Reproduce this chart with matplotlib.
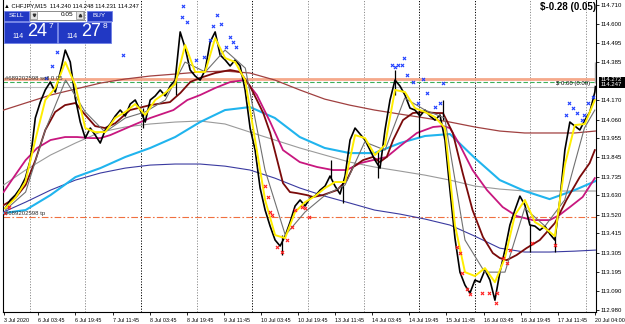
import numpy as np
import matplotlib.pyplot as plt
from matplotlib.patches import Rectangle

plt.rcParams['font.family'] = ['Liberation Sans', 'DejaVu Sans']

# M15 bars, bar 0 = 3 Jul 12:45, last bar = 20 Jul 04:00
tick_bars = [0, 60, 124, 188, 252, 316, 380, 444, 508, 572, 636, 700, 764, 828, 892, 956, 1021]
tick_labels = ['3 Jul 2020', '6 Jul 03:45', '6 Jul 19:45', '7 Jul 11:45', '8 Jul 03:45',
               '8 Jul 19:45', '9 Jul 11:45', '10 Jul 03:45', '10 Jul 19:45', '13 Jul 11:45',
               '14 Jul 03:45', '14 Jul 19:45', '15 Jul 11:45', '16 Jul 03:45', '16 Jul 19:45',
               '17 Jul 11:45', '20 Jul 04:00']
day_bars = [45, 141, 237, 333, 429, 525, 621, 717, 813, 909, 1005]
price_ticks = [112.980, 113.090, 113.195, 113.305, 113.415, 113.520, 113.630, 113.735,
               113.845, 113.955, 114.060, 114.170, 114.385, 114.495, 114.600, 114.710]

close = [113.558, 113.604, 113.632, 113.672, 113.728, 113.830, 114.069, 114.159, 114.228, 114.273,
         114.216, 114.330, 114.454, 114.386, 114.182, 114.046, 113.955, 114.012, 113.972, 113.927,
         114.001, 114.035, 114.080, 114.114, 114.080, 114.148, 114.171, 114.114, 114.046, 114.171,
         114.194, 114.228, 114.194, 114.250, 114.284, 114.557, 114.466, 114.341, 114.307, 114.284,
         114.341, 114.500, 114.557, 114.426, 114.398, 114.364, 114.398, 114.364, 114.228, 114.012,
         113.887, 113.672, 113.547, 113.456, 113.377, 113.343, 113.399, 113.479, 113.570, 113.604,
         113.570, 113.615, 113.626, 113.660, 113.683, 113.740, 113.683, 113.638, 113.740, 113.944,
         114.012, 113.978, 113.944, 113.887, 113.830, 113.785, 114.001, 114.171, 114.284, 114.250,
         114.199, 114.125, 114.114, 114.080, 114.114, 114.080, 114.057, 114.086, 113.944, 113.660,
         113.388, 113.195, 113.122, 113.076, 113.150, 113.138, 113.207, 113.150, 113.036, 113.195,
         113.320, 113.462, 113.547, 113.626, 113.575, 113.462, 113.456, 113.433, 113.456, 113.411,
         113.377, 113.604, 113.887, 114.046, 114.023, 114.001, 114.057, 114.103, 114.216]
bid = 114.247
last_high, last_low = 114.386, 114.267

# visible single-bar spikes of the close line
spike_bars = [241, 298, 480, 565, 585, 646, 675, 716, 758, 909, 951]
spike_top = [114.125, 114.284, 113.405, 113.830, 113.689, 113.887, 114.341, 114.114, 114.171,
             113.462, 113.405]
spike_bottom = [114.012, 114.199, 113.292, 113.728, 113.587, 113.728, 114.199, 113.961, 114.057,
                113.309, 113.309]

fast_ma = [113.558, 113.615, 113.706, 113.944, 114.171, 114.239, 114.386, 114.256, 114.012, 113.989,
           113.989, 114.069, 114.103, 114.148, 114.086, 114.171, 114.211, 114.262, 114.483, 114.330,
           114.330, 114.522, 114.409, 114.386, 114.284, 113.944, 113.604, 113.405, 113.388, 113.536,
           113.592, 113.626, 113.672, 113.706, 113.706, 113.972, 113.955, 113.859, 113.916, 114.228,
           114.216, 114.125, 114.103, 114.074, 114.012, 113.462, 113.195, 113.173, 113.218, 113.138,
           113.275, 113.519, 113.604, 113.479, 113.445, 113.399, 113.802, 114.029, 114.035, 114.171]

slow_fast_bars = [3, 38, 72, 107, 141, 175, 210, 244, 279, 313, 348, 382, 417, 451, 486, 520,
                  555, 589, 623, 658, 692, 727, 761, 796, 830, 865, 899, 934, 968, 1002, 1020]
slow_fast_ma = [113.547, 113.649, 114.001, 114.284, 114.103, 113.989, 114.069, 114.103, 114.171,
                114.386, 114.330, 114.454, 114.352, 113.774, 113.405, 113.536, 113.632, 113.689,
                113.933, 113.887, 114.182, 114.114, 114.069, 113.377, 113.195, 113.195, 113.558,
                113.456, 113.604, 114.012, 114.114]

ma50_bars = [0, 20, 38, 55, 72, 89, 106, 124, 141, 158, 175, 193, 218, 253, 287, 305, 322, 339,
             365, 391, 408, 425, 437, 448, 460, 472, 482, 494, 506, 523, 534, 551, 575, 592, 603,
             620, 637, 649, 661, 672, 689, 706, 723, 747, 758, 775, 792, 809, 827, 844, 856, 868,
             885, 902, 925, 951, 971, 994, 1011, 1020]
ma50 = [113.575, 113.615, 113.689, 113.830, 114.001, 114.103, 114.142, 114.154, 114.086, 114.023,
        114.012, 114.040, 114.114, 114.142, 114.159, 114.211, 114.273, 114.296, 114.324, 114.341,
        114.330, 114.250, 114.171, 114.097, 113.984, 113.830, 113.700, 113.649, 113.643, 113.632,
        113.621, 113.632, 113.660, 113.717, 113.791, 113.830, 113.848, 113.819, 113.848, 113.944,
        114.057, 114.097, 114.103, 114.097, 114.097, 113.984, 113.757, 113.547, 113.394, 113.303,
        113.275, 113.263, 113.292, 113.331, 113.377, 113.473, 113.604, 113.734, 113.813, 113.887]

ma100_bars = [0, 20, 38, 58, 81, 106, 127, 150, 167, 184, 224, 253, 293, 317, 339, 365, 391, 417,
              437, 460, 482, 511, 541, 568, 592, 615, 637, 661, 684, 713, 741, 758, 770, 787, 809,
              834, 861, 885, 913, 942, 959, 977, 999, 1020]
ma100 = [113.649, 113.745, 113.830, 113.899, 113.944, 113.961, 113.961, 113.955, 113.955, 113.972,
         114.029, 114.069, 114.114, 114.171, 114.199, 114.239, 114.273, 114.284, 114.199, 114.046,
         113.887, 113.819, 113.791, 113.774, 113.774, 113.813, 113.830, 113.848, 113.910, 113.984,
         114.018, 114.023, 114.012, 113.916, 113.774, 113.660, 113.564, 113.513, 113.490, 113.490,
         113.519, 113.564, 113.621, 113.728]

long_bars = [0, 38, 81, 124, 167, 210, 253, 296, 339, 382, 425, 468, 511, 554, 597, 640, 684,
             727, 770, 813, 856, 899, 942, 985, 1021]
ma200 = [113.530, 113.547, 113.632, 113.734, 113.785, 113.848, 113.899, 113.961, 114.046, 114.114,
         114.131, 114.069, 113.961, 113.899, 113.870, 113.870, 113.927, 113.967, 113.978, 113.842,
         113.717, 113.655, 113.609, 113.660, 113.711]
ma400 = [113.689, 113.774, 113.859, 113.927, 113.989, 114.018, 114.035, 114.046, 114.052, 114.035,
         113.989, 113.944, 113.899, 113.859, 113.819, 113.791, 113.768, 113.745, 113.717, 113.683,
         113.666, 113.655, 113.655, 113.655, 113.655]
ma600 = [114.114, 114.154, 114.199, 114.233, 114.267, 114.290, 114.307, 114.318, 114.330, 114.335,
         114.324, 114.284, 114.228, 114.176, 114.142, 114.114, 114.091, 114.069, 114.046, 114.018,
         113.995, 113.984, 113.984, 113.984, 113.995]
ma800 = [113.536, 113.592, 113.660, 113.717, 113.757, 113.785, 113.802, 113.808, 113.808, 113.796,
         113.774, 113.728, 113.672, 113.626, 113.587, 113.547, 113.524, 113.496, 113.462, 113.399,
         113.331, 113.309, 113.309, 113.314, 113.320]

up_bars = [74, 84, 93, 103, 108, 206, 310, 308, 317, 332, 346, 356, 361, 368, 375, 384, 391, 396,
           401, 670, 675, 680, 687, 691, 696, 706, 715, 723, 730, 744, 753, 758, 971, 976, 983,
           989, 997, 1002, 1008, 1016]
up_prices = [114.296, 114.364, 114.443, 114.511, 114.551, 114.426, 114.704, 114.642, 114.613,
             114.398, 114.415, 114.511, 114.591, 114.653, 114.602, 114.471, 114.528, 114.500,
             114.471, 114.369, 114.358, 114.369, 114.369, 114.409, 114.313, 114.273, 114.154,
             114.290, 114.211, 114.131, 114.154, 114.267, 114.086, 114.154, 114.125, 114.097,
             114.057, 114.086, 114.154, 114.188]
dn_bars = [3, 10, 451, 456, 460, 463, 472, 480, 489, 498, 503, 515, 520, 527, 782, 787, 791, 799,
           804, 825, 837, 851, 849, 861, 868, 873, 911, 952]
dn_prices = [113.530, 113.564, 113.683, 113.621, 113.536, 113.519, 113.337, 113.309, 113.377,
             113.450, 113.547, 113.564, 113.558, 113.507, 113.337, 113.303, 113.190, 113.099,
             113.070, 113.076, 113.076, 113.076, 113.019, 113.275, 113.246, 113.320, 113.360,
             113.348]

level_line = 114.290
open_price = 114.272
tp_price = 113.508

W, H = 625, 324
fig = plt.figure(figsize=(W / 100, H / 100), dpi=100)
ax = fig.add_axes([3 / W, 12 / H, 593 / W, 312 / H])
ax.set_xlim(-1, 1022)
ax.set_ylim(112.969, 114.738)

for i, b in enumerate(day_bars):
    col = '#000000' if i in (2, 4, 7, 8) else '#8c8c8c'
    ax.axvline(b, color=col, lw=0.7, ls=(0, (1.2, 1.6)), zorder=1)

ax.axhline(level_line, color='#f5a88a', lw=2.0, zorder=2)
ax.axhline(open_price, color='#3fae5a', lw=0.8, ls=(0, (4, 2)), zorder=2)
ax.axhline(bid, color='#bdbdbd', lw=0.8, zorder=2)
ax.axhline(tp_price, color='#f07040', lw=0.8, ls=(0, (6, 2, 1.5, 2)), zorder=2)

ax.plot(long_bars, ma800, color='#3a3aa0', lw=0.8, zorder=3)
ax.plot(long_bars, ma600, color='#a04040', lw=0.9, zorder=3)
ax.plot(long_bars, ma400, color='#9a9a9a', lw=0.8, zorder=3)
ax.plot(long_bars, ma200, color='#20b4ee', lw=1.5, zorder=3)
ax.plot(ma100_bars, ma100, color='#c8177f', lw=1.3, zorder=3)
ax.plot(ma50_bars, ma50, color='#7a0a0a', lw=1.3, zorder=3)

bars = np.linspace(3, 1020, len(close))
ax.plot(np.append(bars, 1021), np.append(close, bid), color='black', lw=1.2, zorder=4)
ax.vlines(spike_bars, spike_bottom, spike_top, color='black', lw=0.9, zorder=4)
ax.vlines(1020, last_low, last_high, color='#a0a0a0', lw=1.0, zorder=4)
ax.plot(slow_fast_bars, slow_fast_ma, color='#707070', lw=0.8, zorder=5)
ax.plot(np.linspace(3, 1020, len(fast_ma)), fast_ma, color='#ffee00', lw=1.4, zorder=6)

ax.scatter(up_bars, up_prices, marker='x', s=5, lw=0.8, color='#2040ff', zorder=7)
ax.scatter(dn_bars, dn_prices, marker='x', s=5, lw=0.8, color='#ff2020', zorder=7)

ax.set_xticks(tick_bars)
ax.set_xticklabels(tick_labels, ha='left')
ax.set_yticks(price_ticks)
ax.set_yticklabels(['%.3f' % v for v in price_ticks])
ax.yaxis.tick_right()
ax.tick_params(axis='y', labelsize=4.3, length=2, width=0.6, pad=1.5, colors='black')
ax.tick_params(axis='x', labelsize=3.9, length=2, width=0.6, pad=2, colors='black')
for side in ('left', 'bottom', 'right'):
    ax.spines[side].set_linewidth(0.8)
ax.spines['top'].set_visible(False)

ax.text(2, 114.279, '#689202598 sell 0.05', fontsize=4.3, color='#303030', va='bottom', zorder=8)
ax.text(2, 113.512, '#689202598 tp', fontsize=4.3, color='#303030', va='bottom', zorder=8)
ax.text(1012, 114.262, '$ 0.00 (0.00)', fontsize=4.3, color='black', ha='right', va='center', zorder=8)

# overlay in pixel units for the trading panel and price labels
ov = fig.add_axes([0, 0, 1, 1], zorder=10)
ov.set_xlim(0, W)
ov.set_ylim(H, 0)
ov.axis('off')

ov.text(4, 5.5, '\u25b2 CHFJPY,M15  114.240 114.248 114.231 114.247', fontsize=4.2, va='center')
ov.text(596, 7, '$-0.28 (0.05)', fontsize=7, fontweight='bold', ha='right', va='center')

blue = '#2138c4'
edge = '#6f80e6'
for x0, lbl in ((3.5, 'SELL'), (86.5, 'BUY')):
    ov.add_patch(Rectangle((x0, 10.5), 25.5, 10.5, fc=blue, ec=edge, lw=0.6))
    ov.text(x0 + 12.75, 15.8, lbl, color='white', fontsize=4.6, ha='center', va='center')
ov.add_patch(Rectangle((29.5, 10.5), 54, 9, fc='white', ec='#7a7a7a', lw=0.6))
for x0, mk in ((30, 'v'), (76, '^')):
    ov.add_patch(Rectangle((x0, 11), 7, 8, fc='#e4e4e4', ec='#8a8a8a', lw=0.5))
    ov.plot(x0 + 3.5, 15, marker=mk, ms=1.8, color='#303030')
ov.text(73, 15, '0.05', fontsize=4.6, ha='right', va='center')

for x0, big, sup in ((3.5, '24', '7'), (57.5, '27', '8')):
    ov.add_patch(Rectangle((x0, 21.5), 53.5, 21, fc=blue, ec=edge, lw=0.6))
    ov.text(x0 + 9, 36, '114', color='white', fontsize=5, va='center')
    ov.text(x0 + 24, 31.5, big, color='white', fontsize=13, va='center')
    ov.text(x0 + 45, 26.5, sup, color='white', fontsize=6, va='center')

ov.add_patch(Rectangle((599, 76.5), 26, 11, fc='black', ec='none'))
ov.text(611.5, 79.5, '114.272', color='white', fontsize=4.3, ha='center', va='center')
ov.text(611.5, 84.5, '114.247', color='white', fontsize=4.3, ha='center', va='center')

fig.savefig('out.png', dpi=100)
